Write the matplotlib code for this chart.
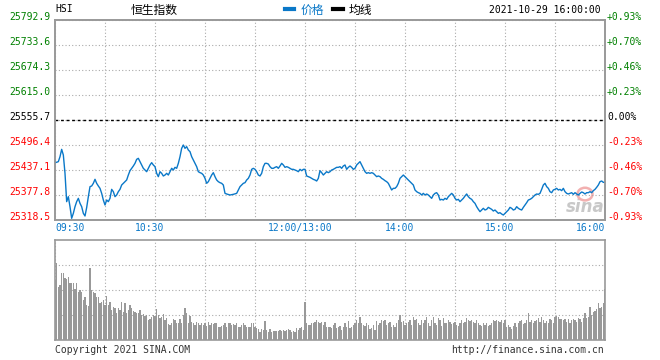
import matplotlib
matplotlib.use('Agg')
import matplotlib.pyplot as plt
from matplotlib.lines import Line2D
from matplotlib.patches import Ellipse
from matplotlib.transforms import offset_copy, blended_transform_factory

# HSI intraday, 2021-10-29 (one value per trading minute, 09:30 -> 16:00, lunch removed)
prev_close = 25555.7
price_ticks = [25318.5, 25377.8, 25437.1, 25496.4, 25555.7, 25615.0, 25674.3, 25733.6, 25792.9]
time_ticks = [0, 60, 150, 210, 270, 330]
time_labels = ['09:30', '10:30', '12:00/13:00', '14:00', '15:00', '16:00']

prices = [
    25454.5, 25455.5, 25456.9, 25468.7, 25486.1, 25472.7, 25429.2, 25362.0, 25373.8, 25350.0,
    25322.5, 25334.3, 25350.1, 25362.0, 25369.9, 25358.0, 25350.1, 25334.3, 25328.0, 25348.0,
    25373.8, 25397.6, 25399.2, 25405.5, 25415.0, 25405.5, 25399.2, 25393.6, 25381.7, 25365.9,
    25354.1, 25365.9, 25362.0, 25369.9, 25391.2, 25385.7, 25373.8, 25377.8, 25385.7, 25391.2,
    25401.5, 25405.5, 25409.4, 25413.4, 25425.2, 25435.5, 25441.1, 25446.6, 25452.9, 25462.4,
    25464.8, 25456.9, 25449.0, 25441.1, 25437.1, 25433.1, 25441.1, 25449.0, 25454.5, 25449.0,
    25445.0, 25429.2, 25421.3, 25433.1, 25429.2, 25422.9, 25425.2, 25429.2, 25425.2, 25433.1,
    25441.1, 25437.1, 25443.4, 25441.1, 25452.9, 25468.7, 25488.5, 25496.4, 25488.5, 25492.5,
    25484.5, 25480.6, 25468.7, 25460.8, 25452.9, 25445.0, 25433.1, 25430.8, 25429.2, 25425.2,
    25417.3, 25405.5, 25409.4, 25417.3, 25425.2, 25430.8, 25421.3, 25413.4, 25409.4, 25407.0,
    25405.5, 25401.5, 25381.7, 25380.2, 25379.0, 25377.8, 25378.6, 25379.4, 25380.5, 25381.7,
    25389.7, 25397.6, 25401.5, 25405.5, 25407.0, 25413.4, 25417.3, 25425.2, 25438.7, 25441.1,
    25438.7, 25433.1, 25425.2, 25422.9, 25429.2, 25445.0, 25452.9, 25452.9, 25451.3, 25445.0,
    25441.1, 25441.1, 25443.4, 25445.0, 25441.1, 25446.6, 25452.9, 25449.0, 25443.4, 25445.0,
    25443.4, 25441.1, 25438.7, 25438.7, 25437.1, 25435.5, 25433.1, 25438.7, 25435.5, 25438.7,
    25438.7, 25422.9, 25421.3, 25419.7, 25417.3, 25414.9, 25413.4, 25411.0, 25417.3, 25435.5,
    25430.8, 25425.2, 25429.2, 25433.1, 25430.8, 25433.1, 25437.1, 25438.7, 25441.1, 25443.4,
    25443.4, 25445.0, 25441.1, 25446.6, 25449.0, 25438.7, 25443.4, 25446.6, 25443.4, 25438.7,
    25441.1, 25449.0, 25452.9, 25456.9, 25449.0, 25441.1, 25433.1, 25429.2, 25430.8, 25429.2,
    25430.8, 25429.2, 25425.2, 25421.3, 25422.9, 25421.3, 25417.3, 25414.9, 25411.8, 25409.4,
    25405.5, 25397.6, 25389.7, 25393.6, 25393.6, 25397.6, 25405.5, 25417.3, 25421.3, 25425.2,
    25421.3, 25417.3, 25413.4, 25409.4, 25405.5, 25401.5, 25389.7, 25385.7, 25383.3, 25381.7,
    25377.8, 25381.7, 25377.8, 25380.2, 25377.8, 25373.8, 25369.9, 25377.8, 25381.7, 25383.3,
    25377.8, 25365.9, 25367.5, 25365.9, 25369.9, 25367.5, 25373.8, 25377.8, 25381.7, 25377.8,
    25369.9, 25365.9, 25367.5, 25362.0, 25365.9, 25369.9, 25375.4, 25380.2, 25373.8, 25369.9,
    25367.5, 25362.0, 25358.0, 25350.1, 25343.8, 25338.3, 25342.2, 25346.2, 25342.2, 25343.8,
    25348.5, 25346.2, 25343.8, 25339.8, 25342.2, 25338.3, 25334.3, 25335.9, 25332.7, 25330.3,
    25334.3, 25338.3, 25342.2, 25348.5, 25346.2, 25342.2, 25343.8, 25350.1, 25346.2, 25343.8,
    25342.2, 25348.5, 25354.1, 25359.6, 25365.9, 25367.5, 25369.9, 25373.8, 25377.8, 25380.2,
    25379.4, 25381.7, 25391.2, 25401.5, 25405.5, 25397.6, 25393.6, 25385.7, 25383.3, 25389.7,
    25391.2, 25393.6, 25389.7, 25391.2, 25388.1, 25393.6, 25385.7, 25381.7, 25380.2, 25381.7,
    25383.3, 25379.4, 25383.3, 25380.2, 25377.8, 25381.7, 25384.9, 25383.3, 25380.2, 25383.3,
    25383.3, 25385.7, 25383.3, 25388.1, 25391.2, 25396.0, 25401.5, 25409.4, 25411.0, 25407.8,
    25407.8,
]

# volume per minute, relative units (panel top = 100)
volume = [
    60, 77, 53, 55, 67, 67, 62, 61, 63, 57,
    57, 57, 51, 57, 48, 50, 48, 40, 43, 35,
    34, 72, 50, 48, 47, 43, 43, 37, 38, 40,
    35, 44, 35, 38, 30, 33, 32, 27, 32, 30,
    38, 28, 37, 27, 30, 35, 32, 29, 28, 27,
    27, 30, 25, 26, 24, 25, 20, 21, 23, 25,
    24, 31, 25, 22, 23, 26, 20, 22, 16, 15,
    17, 21, 20, 17, 17, 21, 17, 25, 32, 27,
    17, 24, 18, 17, 15, 18, 17, 15, 17, 15,
    17, 14, 18, 15, 17, 16, 17, 17, 13, 13,
    14, 15, 17, 13, 17, 17, 15, 16, 15, 17,
    13, 13, 15, 17, 15, 13, 13, 13, 17, 17,
    13, 12, 11, 8, 11, 10, 19, 10, 8, 11,
    8, 9, 9, 9, 9, 10, 9, 10, 9, 10,
    11, 10, 8, 9, 8, 12, 10, 12, 13, 10,
    38, 17, 15, 15, 17, 17, 18, 20, 18, 17,
    18, 15, 18, 13, 13, 13, 12, 15, 17, 12,
    13, 14, 10, 13, 17, 13, 19, 12, 13, 15,
    17, 20, 17, 23, 17, 15, 14, 17, 15, 11,
    12, 15, 10, 19, 15, 17, 20, 19, 20, 15,
    17, 18, 13, 15, 13, 17, 20, 25, 18, 19,
    15, 17, 18, 20, 15, 23, 20, 21, 17, 15,
    20, 17, 20, 23, 17, 14, 20, 23, 17, 15,
    22, 20, 14, 22, 17, 17, 20, 18, 16, 17,
    18, 15, 14, 17, 20, 17, 18, 22, 20, 19,
    20, 18, 17, 20, 17, 15, 14, 17, 15, 17,
    14, 15, 17, 20, 19, 20, 19, 18, 20, 17,
    20, 13, 15, 13, 11, 14, 17, 13, 17, 19,
    20, 16, 17, 20, 27, 18, 20, 17, 19, 20,
    22, 18, 23, 20, 17, 19, 17, 21, 20, 17,
    23, 24, 23, 21, 21, 20, 21, 18, 21, 17,
    20, 21, 20, 18, 22, 21, 18, 22, 27, 22,
    23, 33, 25, 28, 29, 31, 37, 32, 33, 37,
    51,
]

minutes = list(range(len(prices)))

BLUE = '#0a78c8'
GREEN = '#008000'
RED = '#ff0000'
FRAME = '#999999'
GRID = '#aaaaaa'
MONO = 'DejaVu Sans Mono'
CJK = 'Noto Sans CJK SC'

W, H = 660, 360
fig = plt.figure(figsize=(W / 100, H / 100), dpi=100)
fig.patch.set_facecolor('white')

ax = fig.add_axes([55 / W, 1 - 220 / H, 550 / W, 200 / H])
axv = fig.add_axes([55 / W, 1 - 340 / H, 550 / W, 100 / H])

# price panel
line, = ax.plot(minutes, prices, color=BLUE, linewidth=1.0, zorder=3, label='价格')
ax.axhline(prev_close, color='black', linestyle=(0, (2, 2)), linewidth=1.0, zorder=2)
ax.set_xlim(0, 330)
ax.set_ylim(price_ticks[0], price_ticks[-1])

ax.set_xticks(range(0, 331, 30))
ax.set_xticklabels([])
ax.set_yticks(price_ticks)
ax.set_yticklabels([f'{v:.1f}' for v in price_ticks], fontfamily=MONO, fontsize=7)
ax.tick_params(length=0, pad=3)
ax.grid(True, color=GRID, linestyle=(0, (1, 2)), linewidth=0.8, zorder=0)


def level_color(v):
    if abs(v - prev_close) < 0.05:
        return 'black'
    return GREEN if v > prev_close else RED


for lab, v in zip(ax.get_yticklabels(), price_ticks):
    lab.set_color(level_color(v))
    lab.set_verticalalignment('baseline')

ax2 = ax.twinx()
ax2.set_ylim(ax.get_ylim())
pct = []
for v in price_ticks:
    p = (v / prev_close - 1) * 100
    pct.append('0.00%' if abs(p) < 0.005 else f'{p:+.2f}%')
ax2.set_yticks(price_ticks)
ax2.set_yticklabels(pct, fontfamily=MONO, fontsize=7)
ax2.tick_params(length=0, pad=1.5)
for lab, v in zip(ax2.get_yticklabels(), price_ticks):
    lab.set_color(level_color(v))
    lab.set_verticalalignment('baseline')

for a in (ax, ax2, axv):
    for s in a.spines.values():
        s.set_color(FRAME)
        s.set_linewidth(1.2)

# time labels under price panel
trans = blended_transform_factory(ax.transData, ax.transAxes)
for t, lbl in zip(time_ticks, time_labels):
    if t == 0:
        ha, dx = 'left', 0
    elif t == 330:
        ha, dx = 'right', 0
    else:
        ha, dx = 'center', -5
    ax.text(t, 0, lbl, transform=offset_copy(trans, fig=fig, x=dx, y=-3, units='dots'),
            ha=ha, va='top', color=BLUE, fontfamily=MONO, fontsize=7)

# sina watermark
ax.text(318, 25350, 'sina', color='#c8c8c8', fontsize=12, fontweight='bold',
        fontstyle='italic', ha='center', va='center', zorder=1)
ax.add_patch(Ellipse((318, 25380), 9, 30, fill=False, edgecolor='#f2b0b0',
                     linewidth=1.8, zorder=1))

# volume panel
axv.bar(minutes, volume, width=0.65, color=FRAME, linewidth=0, antialiased=False)
axv.set_xlim(0, 330)
axv.set_ylim(0, 100)
axv.set_xticks(range(0, 331, 30))
axv.set_yticks([25, 50, 75])
axv.set_xticklabels([])
axv.set_yticklabels([])
axv.tick_params(length=0)
axv.grid(True, color=GRID, linestyle=(0, (1, 2)), linewidth=0.8)
axv.set_axisbelow(True)

# header
fig.text(55 / W, 1 - 9 / H, 'HSI', fontfamily=MONO, fontsize=7, va='center')
fig.text(154 / W, 1 - 10 / H, '恒生指数', fontfamily=CJK, fontsize=8.5, ha='center', va='center')
fig.text(601 / W, 1 - 10 / H, '2021-10-29 16:00:00', fontfamily=MONO, fontsize=7,
         ha='right', va='center')
handles = [line, Line2D([], [], color='black', linewidth=3, label='均线')]
leg = fig.legend(handles=handles, labels=['价格', '均线'], ncol=2, frameon=False,
                 loc='center left', bbox_to_anchor=(285 / W, 1 - 10 / H),
                 prop={'family': CJK, 'size': 8.5}, handlelength=0.8,
                 handletextpad=0.5, columnspacing=0.8, borderpad=0, borderaxespad=0)
leg.legend_handles[0].set_linewidth(3)
for txt in leg.get_texts():
    txt.set_color(BLUE if txt.get_text() == '价格' else 'black')

# footer
fig.text(55 / W, 1 - 350 / H, 'Copyright 2021 SINA.COM', fontfamily=MONO, fontsize=7,
         color='#333333', va='center')
fig.text(604 / W, 1 - 350 / H, 'http://finance.sina.com.cn', fontfamily=MONO, fontsize=7,
         color='#333333', ha='right', va='center')

fig.savefig('out.png', dpi=100, facecolor='white')
